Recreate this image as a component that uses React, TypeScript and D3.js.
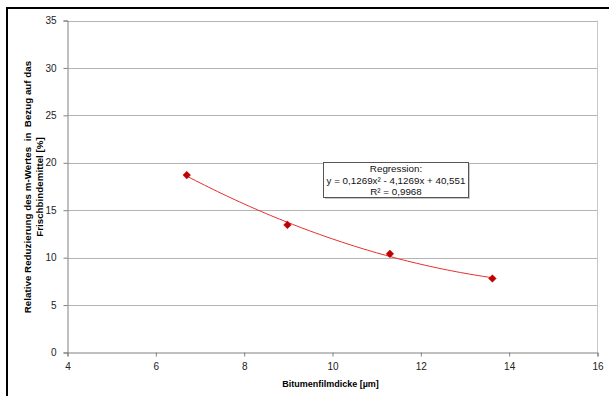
import React, { useEffect, useRef } from 'react';
import * as d3 from 'd3';

// measured points
const filmThickness = [6.7, 8.98, 11.3, 13.62];
const reduction = [18.7, 13.45, 10.4, 7.8];

// quadratic regression (a, b, c) from the chart label
const regCoef = [0.1269, -4.1269, 40.551];

const xTicks = [4, 6, 8, 10, 12, 14, 16];
const yTicks = [0, 5, 10, 15, 20, 25, 30, 35];

const regLines = ['Regression:', 'y = 0,1269x\u00B2 - 4,1269x + 40,551', 'R\u00B2 = 0,9968'];

const W = 609;
const H = 396;

const App = () => {
    const svgRef = useRef<SVGSVGElement>(null);

    useEffect(() => {
        document.body.style.margin = '0';
        const svg = d3.select(svgRef.current);
        svg.selectAll('*').remove();

        const left = 67.5, right = 597.5, top = 20.5, bottom = 352.5;

        const x = d3.scaleLinear().domain([4, 16]).range([left, right]);
        const y = d3.scaleLinear().domain([0, 35]).range([bottom, top]);

        svg.append('rect').attr('width', W).attr('height', H).attr('fill', 'white');

        // outer frame (only top and left visible)
        svg.append('path')
            .attr('d', `M7,${H} L7,8 L${W},8`)
            .attr('fill', 'none')
            .attr('stroke', '#000')
            .attr('stroke-width', 2);

        // gridlines
        svg.append('g').selectAll('line')
            .data(yTicks.filter(d => d > 0))
            .enter().append('line')
            .attr('x1', left).attr('x2', right)
            .attr('y1', d => Math.round(y(d)) + 0.5).attr('y2', d => Math.round(y(d)) + 0.5)
            .attr('stroke', '#b4b4b4')
            .attr('stroke-width', 1);

        // plot area border right
        svg.append('line')
            .attr('x1', right).attr('x2', right).attr('y1', top).attr('y2', bottom)
            .attr('stroke', '#c8c8c8');

        // axes
        const font = 'Arial, "Liberation Sans", sans-serif';
        const yAxis = svg.append('g')
            .attr('transform', `translate(${left},0)`)
            .call(d3.axisLeft(y).tickValues(yTicks).tickSize(4).tickPadding(7).tickFormat(d3.format('d')));
        const xAxis = svg.append('g')
            .attr('transform', `translate(0,${bottom})`)
            .call(d3.axisBottom(x).tickValues(xTicks).tickSize(4).tickPadding(6).tickFormat(d3.format('d')));
        [xAxis, yAxis].forEach(ax => {
            ax.select('.domain').attr('stroke', '#808080');
            ax.selectAll('.tick line').attr('stroke', '#808080');
            ax.selectAll('text')
                .attr('font-family', font)
                .attr('font-size', 10)
                .attr('fill', '#222');
        });

        // axis titles
        svg.append('text')
            .attr('x', (left + right) / 2 - 2)
            .attr('y', 387)
            .attr('text-anchor', 'middle')
            .attr('font-family', font)
            .attr('font-size', 9)
            .attr('font-weight', 'bold')
            .text('Bitumenfilmdicke [\u00B5m]');

        const yTitle = svg.append('text')
            .attr('transform', 'translate(0,187) rotate(-90)')
            .attr('text-anchor', 'middle')
            .attr('font-family', font)
            .attr('font-size', 9.8)
            .attr('font-weight', 'bold')
            .style('white-space', 'pre');
        yTitle.append('tspan').attr('x', 0).attr('y', 31)
            .text('Relative Reduzierung des m-Wertes  in  Bezug auf das');
        yTitle.append('tspan').attr('x', 0).attr('y', 42.5)
            .text('Frischbindemittel [%]');

        // trendline over measured range
        const [a, b, c] = regCoef;
        const xs = d3.range(filmThickness[0], filmThickness[filmThickness.length - 1] + 0.001, 0.1);
        const line = d3.line<number>()
            .x(d => x(d))
            .y(d => y(a * d * d + b * d + c))
            .curve(d3.curveMonotoneX);
        svg.append('path')
            .datum(xs)
            .attr('d', line)
            .attr('fill', 'none')
            .attr('stroke', '#e62e2e')
            .attr('stroke-width', 1);

        // markers
        svg.append('g').selectAll('path')
            .data(filmThickness)
            .enter().append('path')
            .attr('d', 'M0,-3.8L3.8,0L0,3.8L-3.8,0Z')
            .attr('transform', (d, i) => `translate(${x(d)},${y(reduction[i])})`)
            .attr('fill', '#c00000')
            .attr('stroke', '#c00000')
            .attr('stroke-width', 0.5);

        // regression label box
        const bx = 323.5, by = 162.5, bw = 145, bh = 35;
        svg.append('rect')
            .attr('x', bx + 1.5).attr('y', by + 1.5).attr('width', bw).attr('height', bh)
            .attr('fill', '#c8c8c8');
        svg.append('rect')
            .attr('x', bx).attr('y', by).attr('width', bw).attr('height', bh)
            .attr('fill', 'white')
            .attr('stroke', '#555')
            .attr('stroke-width', 1);
        svg.append('g').selectAll('text')
            .data(regLines)
            .enter().append('text')
            .attr('x', bx + bw / 2)
            .attr('y', (d, i) => by + 9.5 + i * 11.5)
            .attr('text-anchor', 'middle')
            .attr('font-family', font)
            .attr('font-size', 9.8)
            .attr('fill', '#111')
            .text(d => d);
    }, []);

    return <svg ref={svgRef} width={W} height={H} style={{ display: 'block' }} />;
};

export default App;
